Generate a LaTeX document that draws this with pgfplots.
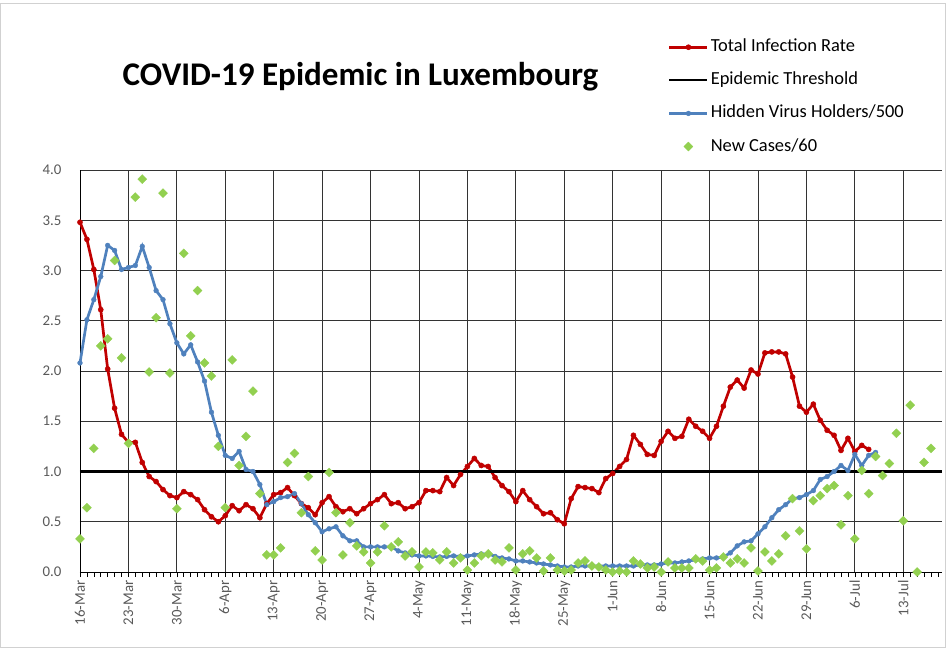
\documentclass[border=0pt]{standalone}
\usepackage{pgfplots}
\pgfplotsset{compat=1.18}
\usepackage{fontspec}
\setmainfont{Carlito}
\definecolor{cred}{HTML}{C00000}
\definecolor{cblue}{HTML}{4F81BD}
\definecolor{cgreen}{HTML}{92D050}
\definecolor{lbl}{HTML}{595959}

\pgfplotstableread{
d v
0 3.48
1 3.31
2 3.01
3 2.61
4 2.02
5 1.63
6 1.37
7 1.29
8 1.29
9 1.09
10 0.95
11 0.90
12 0.82
13 0.76
14 0.74
15 0.80
16 0.77
17 0.72
18 0.62
19 0.55
20 0.50
21 0.56
22 0.66
23 0.61
24 0.67
25 0.63
26 0.54
27 0.68
28 0.77
29 0.79
30 0.84
31 0.76
32 0.68
33 0.64
34 0.57
35 0.69
36 0.75
37 0.65
38 0.60
39 0.63
40 0.58
41 0.63
42 0.68
43 0.72
44 0.77
45 0.68
46 0.69
47 0.63
48 0.65
49 0.69
50 0.81
51 0.81
52 0.80
53 0.94
54 0.86
55 0.97
56 1.05
57 1.13
58 1.06
59 1.05
60 0.94
61 0.86
62 0.80
63 0.70
64 0.81
65 0.72
66 0.65
67 0.58
68 0.59
69 0.52
70 0.48
71 0.73
72 0.85
73 0.84
74 0.83
75 0.79
76 0.93
77 0.98
78 1.05
79 1.12
80 1.36
81 1.27
82 1.17
83 1.16
84 1.30
85 1.40
86 1.33
87 1.35
88 1.52
89 1.45
90 1.40
91 1.33
92 1.45
93 1.65
94 1.84
95 1.91
96 1.83
97 2.01
98 1.97
99 2.18
100 2.19
101 2.19
102 2.17
103 1.94
104 1.65
105 1.59
106 1.67
107 1.51
108 1.41
109 1.36
110 1.21
111 1.33
112 1.20
113 1.26
114 1.22
}\redtab

\pgfplotstableread{
d v
0 2.08
1 2.51
2 2.71
3 2.94
4 3.25
5 3.20
6 3.01
7 3.03
8 3.05
9 3.24
10 3.03
11 2.80
12 2.71
13 2.47
14 2.28
15 2.17
16 2.26
17 2.09
18 1.90
19 1.59
20 1.36
21 1.16
22 1.13
23 1.20
24 1.02
25 1.00
26 0.87
27 0.67
28 0.70
29 0.74
30 0.75
31 0.78
32 0.68
33 0.57
34 0.49
35 0.40
36 0.43
37 0.45
38 0.36
39 0.31
40 0.31
41 0.25
42 0.25
43 0.25
44 0.25
45 0.25
46 0.21
47 0.19
48 0.17
49 0.16
50 0.16
51 0.155
52 0.15
53 0.155
54 0.16
55 0.155
56 0.16
57 0.17
58 0.18
59 0.18
60 0.155
61 0.14
62 0.13
63 0.11
64 0.11
65 0.10
66 0.09
67 0.08
68 0.07
69 0.06
70 0.05
71 0.05
72 0.06
73 0.06
74 0.06
75 0.06
76 0.06
77 0.06
78 0.06
79 0.06
80 0.06
81 0.07
82 0.07
83 0.07
84 0.08
85 0.09
86 0.09
87 0.10
88 0.11
89 0.12
90 0.13
91 0.14
92 0.14
93 0.15
94 0.19
95 0.26
96 0.30
97 0.31
98 0.38
99 0.45
100 0.54
101 0.62
102 0.67
103 0.73
104 0.74
105 0.77
106 0.81
107 0.92
108 0.95
109 1.00
110 1.06
111 1.01
112 1.17
113 1.06
114 1.16
115 1.19
}\bluetab

\pgfplotstableread{
d v
0 0.33
1 0.64
2 1.23
3 2.25
4 2.32
5 3.10
6 2.13
7 1.28
8 3.73
9 3.91
10 1.99
11 2.53
12 3.77
13 1.98
14 0.63
15 3.17
16 2.35
17 2.80
18 2.08
19 1.95
20 1.25
21 0.64
22 2.11
23 1.06
24 1.35
25 1.80
26 0.78
27 0.17
28 0.17
29 0.24
30 1.09
31 1.18
32 0.59
33 0.95
34 0.21
35 0.12
36 0.99
37 0.59
38 0.17
39 0.49
40 0.26
41 0.20
42 0.09
43 0.20
44 0.46
45 0.25
46 0.30
47 0.16
48 0.20
49 0.05
50 0.20
51 0.19
52 0.12
53 0.20
54 0.09
55 0.14
56 0.02
57 0.09
58 0.16
59 0.18
60 0.12
61 0.10
62 0.24
63 0.02
64 0.18
65 0.21
66 0.14
67 0.01
68 0.14
69 0.02
70 0.01
71 0.02
72 0.09
73 0.11
74 0.06
75 0.05
76 0.02
77 0.00
78 0.01
79 0.00
80 0.11
81 0.08
82 0.04
83 0.05
84 0.00
85 0.10
86 0.04
87 0.04
88 0.04
89 0.13
90 0.11
91 0.02
92 0.04
93 0.15
94 0.09
95 0.13
96 0.09
97 0.24
98 0.01
99 0.20
100 0.11
101 0.18
102 0.36
103 0.73
104 0.41
105 0.23
106 0.71
107 0.76
108 0.83
109 0.86
110 0.47
111 0.76
112 0.33
113 1.01
114 0.78
115 1.15
116 0.96
117 1.08
118 1.38
119 0.51
120 1.66
121 0.00
122 1.09
123 1.23
}\greentab

\begin{document}
\begin{tikzpicture}
\path[use as bounding box] (-80bp,-76bp) rectangle (868bp,572bp);
\draw[black!18, line width=0.75bp] (-79.6bp,-75.6bp) rectangle (865.5bp,569bp);
\begin{axis}[
  scale only axis, width=862bp, height=402bp,
  xmin=0, xmax=124.6, ymin=0, ymax=4,
  clip=false,
  axis x line*=bottom, axis y line*=left,
  axis line style={-, black, line width=0.9bp},
  xtick={0,7,...,119},
  xticklabels={16-Mar,23-Mar,30-Mar,6-Apr,13-Apr,20-Apr,27-Apr,4-May,11-May,18-May,25-May,1-Jun,8-Jun,15-Jun,22-Jun,29-Jun,6-Jul,13-Jul},
  minor xtick={0,1,...,124},
  ytick={0,0.5,...,4},
  grid=major,
  major grid style={black!80, line width=0.8bp},
  tick align=outside,
  major tick length=5bp, minor tick length=4.5bp,
  x tick style={black, line width=0.6bp},
  ytick style={draw=none},
  xticklabel style={rotate=90, anchor=east, font=\fontsize{14.9}{16}\selectfont, text=lbl},
  yticklabel style={font=\fontsize{14.9}{16}\selectfont, text=lbl, xshift=-10bp,
    /pgf/number format/.cd, fixed, fixed zerofill, precision=1, assume math mode=true},
  legend style={at={(rel axis cs:0.682,1.332)}, anchor=north west, draw=none, fill=none,
    inner sep=0pt, font=\fontsize{18.5}{22}\selectfont, row sep=12.1bp,
    nodes={inner sep=2bp, text height=13bp, text depth=4bp}},
  legend cell align=left,
  legend image code/.code={\draw[mark repeat=2, mark phase=2] plot coordinates {(0bp,0bp) (19bp,0bp) (38bp,0bp)};},
]
\addplot[cred, line width=2.7bp, mark=*, mark size=2.6bp, mark options={solid, fill=cred, line width=0.4bp}] table[x=d,y=v] {\redtab};
\addlegendentry{Total Infection Rate}
\addplot[black, line width=2.3bp] coordinates {(0,1) (124.6,1)};
\addlegendentry{Epidemic Threshold}
\addplot[cblue, line width=2.7bp, mark=*, mark size=2.4bp, mark options={solid, fill=cblue, line width=0.4bp}] table[x=d,y=v] {\bluetab};
\addlegendentry{Hidden Virus Holders/500}
\addplot[only marks, cgreen, mark=square*, mark size=3.2bp, mark options={rotate=45, fill=cgreen, draw=cgreen, line width=0.3bp}] table[x=d,y=v] {\greentab};
\addlegendentry{New Cases/60}
\end{axis}
\node[anchor=base, font=\fontsize{33.2}{38}\selectfont\bfseries] at (280.5bp,486bp) {COVID-19 Epidemic in Luxembourg};
\end{tikzpicture}
\end{document}
